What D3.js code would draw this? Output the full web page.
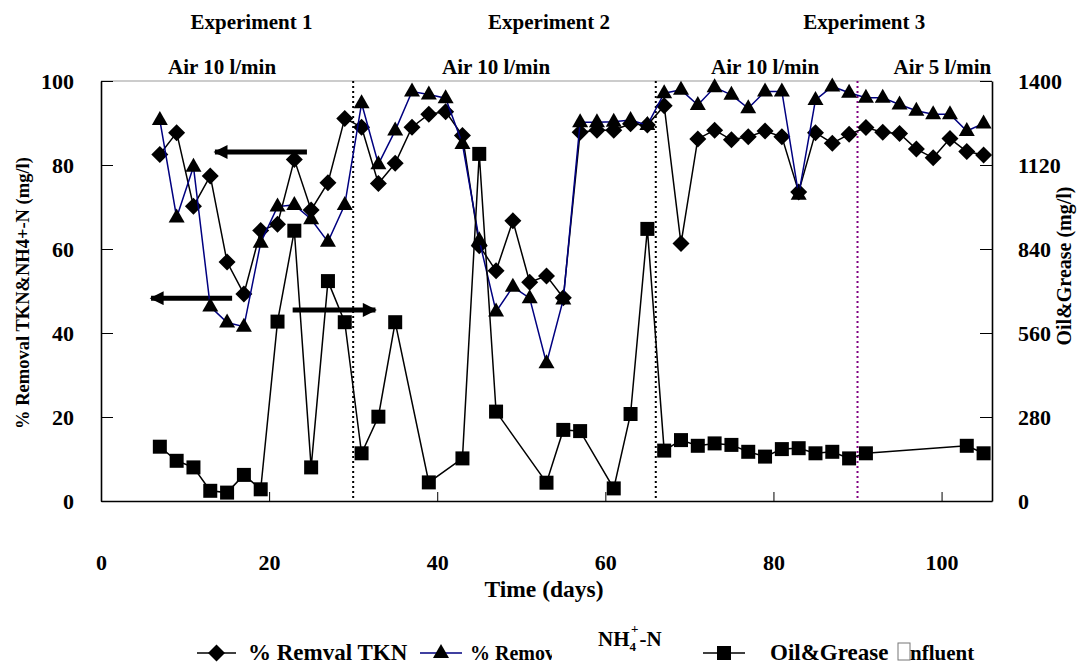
<!DOCTYPE html>
<html>
<head>
<meta charset="utf-8">
<script src="https://cdn.jsdelivr.net/npm/d3@7"></script>
<style>
  html, body { margin: 0; padding: 0; background: #fff; }
  svg text { font-family: "Liberation Serif", "Times New Roman", serif; font-weight: bold; fill: #000; }
</style>
</head>
<body>
<svg id="chart" width="1077" height="664"></svg>
<script>
// Sampling days (odd days) for the nitrogen removal series
const daysN = [7, 9, 11, 13, 15, 17, 19, 21, 23, 25, 27, 29,
  31, 33, 35, 37, 39, 41, 43, 45, 47, 49, 51, 53, 55, 57, 59, 61, 63, 65,
  67, 69, 71, 73, 75, 77, 79, 81, 83, 85, 87, 89, 91, 93, 95, 97, 99, 101, 103, 105];

// % removal of TKN
const tknRemoval = [82.5, 87.7, 70.2, 77.4, 56.9, 49.3, 64.4, 65.9, 81.3, 69.3, 75.8, 91.1,
  89.0, 75.6, 80.4, 89.0, 92.1, 92.7, 87.0, 60.8, 54.8, 66.7, 52.1, 53.6, 48.4, 87.8, 88.3, 88.3, 89.8, 89.5,
  94.1, 61.3, 86.2, 88.3, 86.0, 86.7, 88.1, 86.7, 73.6, 87.7, 85.2, 87.3, 88.9, 87.8, 87.5, 83.8, 81.7, 86.3, 83.2, 82.4];

// % removal of NH4+-N
const nh4Removal = [90.7, 67.5, 79.6, 46.3, 42.5, 41.5, 61.5, 70.1, 70.5, 67.1, 61.7, 70.5,
  94.7, 80.2, 88.2, 97.5, 96.8, 95.9, 85.0, 62.1, 45.1, 51.0, 48.3, 32.8, 48.0, 90.2, 90.2, 90.3, 90.7, 89.5,
  97.1, 97.9, 94.3, 98.5, 96.7, 93.5, 97.5, 97.5, 72.9, 95.5, 98.7, 97.2, 96.0, 96.0, 94.4, 92.9, 92.1, 92.1, 88.1, 89.9];

// Influent oil & grease (mg/l)
const daysOG = [7, 9, 11, 13, 15, 17, 19, 21, 23, 25, 27, 29,
  31, 33, 35, 39, 43, 45, 47, 53, 55, 57, 61, 63, 65,
  67, 69, 71, 73, 75, 77, 79, 81, 83, 85, 87, 89, 91, 103, 105];
const ogInfluent = [181, 134, 112, 34, 28, 87, 39, 598, 901, 112, 733, 596,
  159, 281, 596, 62, 142, 1157, 298, 61, 237, 233, 42, 290, 907,
  168, 203, 184, 192, 187, 164, 148, 173, 176, 159, 164, 142, 159, 184, 159];

// Axis ticks
const xTicks = [0, 20, 40, 60, 80, 100];
const yTicks = [0, 20, 40, 60, 80, 100];
const y2Ticks = [0, 280, 560, 840, 1120, 1400];

// Phase boundaries (days) and headings
const phaseBounds = [30, 66];
const airChangeDay = 90;
const experimentLabels = ["Experiment 1", "Experiment 2", "Experiment 3"];
const experimentCenters = [17.9, 53.3, 90.8];
const airLabels = ["Air 10 l/min", "Air 10 l/min", "Air 10 l/min", "Air 5 l/min"];
const airCenters = [14.4, 47.0, 79.0, 100.1];

// Annotation arrows: start day, end day, level on the left axis
const arrowFrom = [24.5, 15.6, 22.8];
const arrowTo = [12.6, 5.0, 33.6];
const arrowLevel = [83.1, 48.3, 45.5];

const svg = d3.select("#chart");
const plotL = 101, plotR = 992, plotT = 81, plotB = 501;

const x = d3.scaleLinear().domain([0, 106]).range([plotL, plotR]);
const y = d3.scaleLinear().domain([0, 100]).range([plotB, plotT]);
const y2 = d3.scaleLinear().domain([0, 1400]).range([plotB, plotT]);

const FS = 21, TICK_FS = 22, LEG_FS = 23;

// Frame top edge (light)
svg.append("line").attr("x1", plotL).attr("x2", plotR).attr("y1", plotT).attr("y2", plotT)
  .attr("stroke", "#9a9a9a").attr("stroke-width", 1.2);

// Axes
const fmt = d3.format("d");
const gL = svg.append("g").attr("transform", `translate(${plotL},0)`)
  .call(d3.axisLeft(y).tickValues(yTicks).tickFormat(fmt).tickSizeInner(-12).tickSizeOuter(0).tickPadding(27));
const gR = svg.append("g").attr("transform", `translate(${plotR},0)`)
  .call(d3.axisRight(y2).tickValues(y2Ticks).tickFormat(fmt).tickSizeInner(-12).tickSizeOuter(0).tickPadding(26));
const gB = svg.append("g").attr("transform", `translate(0,${plotB})`)
  .call(d3.axisBottom(x).tickValues(xTicks).tickFormat(fmt).tickSizeInner(-9).tickSizeOuter(0).tickPadding(53));
[gL, gR, gB].forEach(g => {
  g.select(".domain").attr("stroke", "#000").attr("stroke-width", 1.6);
  g.selectAll(".tick line").attr("stroke", "#000").attr("stroke-width", 1);
  g.selectAll(".tick text").attr("font-size", TICK_FS);
});
gB.selectAll(".tick").filter(d => d === 0).select("line").remove();

// Phase separators
phaseBounds.forEach(d => {
  svg.append("line").attr("x1", x(d)).attr("x2", x(d)).attr("y1", plotT).attr("y2", plotB)
    .attr("stroke", "#000").attr("stroke-width", 2).attr("stroke-dasharray", "2,3");
});
svg.append("line").attr("x1", x(airChangeDay)).attr("x2", x(airChangeDay)).attr("y1", plotT).attr("y2", plotB)
  .attr("stroke", "#800080").attr("stroke-width", 2).attr("stroke-dasharray", "2,3");

// Headings
experimentLabels.forEach((t, i) => {
  svg.append("text").attr("x", x(experimentCenters[i])).attr("y", 29)
    .attr("text-anchor", "middle").attr("font-size", FS).text(t);
});
airLabels.forEach((t, i) => {
  svg.append("text").attr("x", x(airCenters[i])).attr("y", 74)
    .attr("text-anchor", "middle").attr("font-size", FS).text(t);
});

// Axis titles
svg.append("text").attr("transform", `translate(29,293) rotate(-90)`)
  .attr("text-anchor", "middle").attr("font-size", 18.5).text("% Removal TKN&NH4+-N (mg/l)");
svg.append("text").attr("transform", `translate(1071,266) rotate(-90)`)
  .attr("text-anchor", "middle").attr("font-size", 20).text("Oil&Grease (mg/l)");
svg.append("text").attr("x", 544).attr("y", 597)
  .attr("text-anchor", "middle").attr("font-size", 23.5).text("Time (days)");

// Arrow markers
const defs = svg.append("defs");
defs.append("marker").attr("id", "head").attr("viewBox", "0 0 10 10")
  .attr("refX", 9).attr("refY", 5).attr("markerUnits", "userSpaceOnUse")
  .attr("markerWidth", 18).attr("markerHeight", 14).attr("orient", "auto")
  .append("path").attr("d", "M0,0L10,5L0,10Z").attr("fill", "#000");
arrowFrom.forEach((f, i) => {
  svg.append("line").attr("x1", x(f)).attr("x2", x(arrowTo[i]) + (arrowTo[i] < f ? 8 : -8))
    .attr("y1", y(arrowLevel[i])).attr("y2", y(arrowLevel[i]))
    .attr("stroke", "#000").attr("stroke-width", 5).attr("marker-end", "url(#head)");
});

// Marker shapes
const diamondPath = "M0,-8.5L8.5,0L0,8.5L-8.5,0Z";
const trianglePath = "M0,-9L8,5L-8,5Z";
const squarePath = "M-7,-7H7V7H-7Z";

// TKN series
const tkn = daysN.map((d, i) => [d, tknRemoval[i]]);
svg.append("path").datum(tkn)
  .attr("d", d3.line().x(d => x(d[0])).y(d => y(d[1])))
  .attr("fill", "none").attr("stroke", "#000").attr("stroke-width", 1.5);
svg.append("g").selectAll("path").data(tkn).join("path")
  .attr("transform", d => `translate(${x(d[0])},${y(d[1])})`).attr("d", diamondPath).attr("fill", "#000");

// NH4 series
const nh4 = daysN.map((d, i) => [d, nh4Removal[i]]);
svg.append("path").datum(nh4)
  .attr("d", d3.line().x(d => x(d[0])).y(d => y(d[1])))
  .attr("fill", "none").attr("stroke", "#000080").attr("stroke-width", 1.5);
svg.append("g").selectAll("path").data(nh4).join("path")
  .attr("transform", d => `translate(${x(d[0])},${y(d[1])})`).attr("d", trianglePath).attr("fill", "#000");

// Oil & grease series
const og = daysOG.map((d, i) => [d, ogInfluent[i]]);
svg.append("path").datum(og)
  .attr("d", d3.line().x(d => x(d[0])).y(d => y2(d[1])))
  .attr("fill", "none").attr("stroke", "#000").attr("stroke-width", 1.5);
svg.append("g").selectAll("path").data(og).join("path")
  .attr("transform", d => `translate(${x(d[0])},${y2(d[1])})`).attr("d", squarePath).attr("fill", "#000");

// Legend
const ly = 653;
const leg = svg.append("g");
function sample(x0, x1, color, shape) {
  leg.append("line").attr("x1", x0).attr("x2", x1).attr("y1", ly).attr("y2", ly)
    .attr("stroke", color).attr("stroke-width", 1.5);
  leg.append("path").attr("transform", `translate(${(x0 + x1) / 2},${ly})`).attr("d", shape).attr("fill", "#000");
}
sample(197, 236, "#000", diamondPath);
leg.append("text").attr("x", 248).attr("y", 660).attr("font-size", LEG_FS).text("% Remval TKN");
sample(420, 462, "#000080", trianglePath);
defs.append("clipPath").attr("id", "cut").append("rect").attr("x", 460).attr("y", 630).attr("width", 92).attr("height", 34);
leg.append("text").attr("x", 470).attr("y", 660).attr("font-size", 20).attr("clip-path", "url(#cut)").text("% Remova");
const nh = leg.append("text").attr("x", 598).attr("y", 646).attr("font-size", 21);
nh.append("tspan").text("NH");
nh.append("tspan").attr("font-size", 13).attr("dy", 5).text("4");
nh.append("tspan").attr("font-size", 13).attr("dx", -5).attr("dy", -18).text("+");
nh.append("tspan").attr("dx", 1).attr("dy", 13).text("-N");
sample(703, 745, "#000", squarePath);
leg.append("text").attr("x", 770).attr("y", 660).attr("font-size", LEG_FS).text("Oil&Grease");
leg.append("rect").attr("x", 898).attr("y", 643).attr("width", 12).attr("height", 17)
  .attr("fill", "none").attr("stroke", "#777").attr("stroke-width", 1);
leg.append("text").attr("x", 910).attr("y", 660).attr("font-size", 21).text("nfluent");
</script>
</body>
</html>
